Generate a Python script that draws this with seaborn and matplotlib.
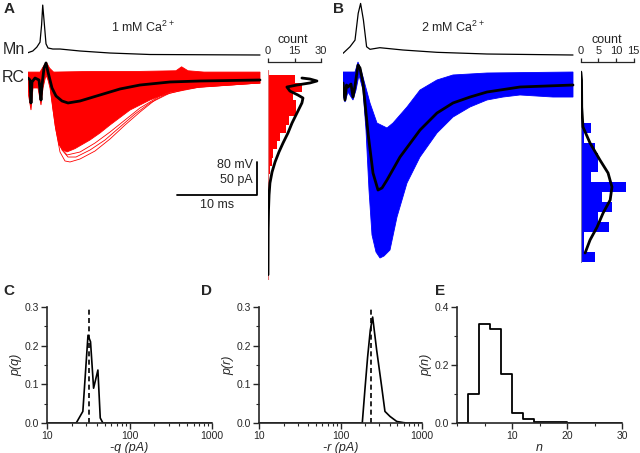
import matplotlib
matplotlib.use("Agg")
import matplotlib.pyplot as plt
import matplotlib.ticker as mticker
import numpy as np
import seaborn as sns

# ---------------- data ----------------
# time in ms, currents in pA, voltages in mV

# A: 1 mM Ca2+
mn_a_t = [0, 0.6, 1.1, 1.5, 1.7, 1.84, 2.0, 2.25, 2.5, 3.1, 4.0, 6.5, 10.25, 15.25, 29.0]
mn_a_v = [5.6, 9.7, 19, 31, 73, 121, 85, 27, 17, 14.5, 14.5, 9.7, 4.8, 1.2, 0]

rc_a_t = [0, 0.25, 0.375, 0.5, 0.875, 1.375, 1.625, 1.75, 2.0, 2.25, 2.5, 3.0, 3.5,
          4.25, 5.0, 6.5, 9.0, 11.5, 14.0, 17.75, 21.5, 29.0]
rc_a_i = [3.0, 0, -34.8, -3.0, 3.0, 0, -30.3, -7.6, 18.2, 25.8, 12.1, -12.1, -24.2,
          -31.8, -34.8, -31.8, -22.7, -13.6, -7.6, -3.0, -1.5, 0]

fan_a_top_t = [0, 1.5, 2.0, 2.3, 2.7, 3.2, 8, 14, 18.5, 19.2, 20, 22, 29]
fan_a_top_i = [12, 12, 22, 27, 18, 12, 13, 13, 14, 20, 14, 12, 12]
fan_a_low_t = [0, 0.375, 0.625, 1.25, 1.625, 1.875, 2.25, 2.5, 2.75, 3.125, 3.5, 3.875,
               4.375, 4.875, 5.875, 7.75, 9.0, 10.25, 12.75, 15.25, 17.75, 21.5, 25.25, 29.0]
fan_a_low_i = [-18.2, -45.5, -12.1, -12.1, -37.9, -12.1, 7.6, 0, -12.1, -45.5, -75.8, -98.5,
               -106, -109, -104, -90.9, -80.3, -68.2, -45.5, -30.3, -18.2, -10.6, -7.6, -4.5]

# largest single sweeps in A
big_a1_t = [2.75, 3.375, 4.0, 4.625, 5.25, 6.5, 8.375, 10.25, 12.125, 14.0, 15.875, 17.75, 20.25, 24.0, 29.0]
big_a1_i = [-7.6, -68.2, -109.1, -122.7, -124.2, -119.7, -107.6, -89.4, -68.2, -48.5, -30.3, -18.2, -10.6, -6.1, -4.5]
big_a2_t = [3.0, 3.625, 4.25, 5.0, 6.0, 7.75, 9.625, 11.5, 13.375, 15.25, 17.75, 21.5, 29.0]
big_a2_i = [-12.1, -75.8, -106.1, -116.7, -116.7, -106.1, -90.9, -71.2, -51.5, -34.8, -19.7, -10.6, -4.5]
big_a3_t = [2.875, 3.5, 4.125, 4.875, 6.5, 8.375, 10.25, 12.125, 14.0, 16.5, 20.25, 29.0]
big_a3_i = [-9.1, -72.7, -103.0, -113.6, -109.1, -95.5, -78.8, -60.6, -42.4, -24.2, -12.1, -4.5]

hist_a_amp = [1.25, -11.25, -23.75, -36.25, -48.75, -61.25, -73.75, -86.25, -98.75, -111.25, -123.75, -136.25]
hist_a_count = [15, 19, 14, 16, 16, 12, 10, 7, 5, 3, 2, 1]
fit_a_count = [19.2, 23.7, 27.7, 23.7, 16.4, 10.7, 12.4, 16.9, 19.8, 19.2, 16.4, 13.6, 11.3,
               8.5, 6.2, 4.0, 2.3, 1.1, 0.6, 0.3, 0.1, 0]
fit_a_amp = [3.0, 1.5, -1.5, -4.5, -7.6, -10.6, -16.7, -22.7, -27.3, -34.8, -50, -65.2, -80.3,
             -95.5, -109.1, -124.2, -139.4, -156.1, -174.2, -197, -227, -295]

# B: 2 mM Ca2+
mn_b_t = [0, 0.875, 1.5, 1.9, 2.2, 2.55, 2.95, 3.375, 4.6, 7.5, 11.75, 18, 28.75]
mn_b_v = [4, 20, 36, 101, 125, 85, 20, 13.8, 17.7, 12.1, 6.5, 2.4, 0]

rc_b_t = [0, 0.25, 0.44, 0.625, 1.0, 1.25, 1.5, 1.875, 2.125, 2.5, 3.125, 3.75, 4.375,
          4.875, 5.5, 7.125, 9.625, 11.75, 13.75, 15.875, 18.0, 22.125, 28.75]
rc_b_i = [-4.5, -30.3, -7.6, -10.6, -6.1, -25.8, -9.1, 22.7, 18.2, -4.5, -80.3, -140.9, -166.7,
          -163.6, -151.5, -116.7, -75.8, -50, -34.8, -25.8, -18.2, -10.6, -7.6]

fan_b_top_t = [0, 1.5, 1.875, 2.25, 2.5, 3.375, 4.25, 5.5, 6.25, 8.0, 9.625, 11.75, 13.75, 18.0, 28.75]
fan_b_top_i = [12.1, 12.1, 27.3, 15.2, 4.5, -34.8, -65.2, -72.7, -65.2, -40.9, -15.2, 0, 7.6, 10.6, 12.1]
fan_b_low_t = [0, 0.25, 0.625, 1.25, 1.625, 2.0, 2.5, 2.875, 3.25, 3.625, 4.125, 4.625, 5.125,
               5.875, 6.75, 8.0, 9.625, 11.75, 13.75, 15.875, 18.0, 20.0, 22.125, 26.25, 28.75]
fan_b_low_i = [-22.7, -33.3, -18.2, -30.3, -15.2, 7.6, -15.2, -75.8, -166.7, -234.8, -260.6, -269.7,
               -266.7, -257.6, -207.6, -156.1, -116.7, -80.3, -56.1, -40.9, -30.3, -25.8, -22.7, -25.8, -25.8]

hist_b_amp = [-72.5, -87.5, -102.5, -117.5, -132.5, -147.5, -162.5, -177.5, -192.5, -207.5,
              -222.5, -237.5, -252.5, -267.5]
hist_b_count = [3, 1, 4, 5, 5, 3, 13, 6, 9, 5, 8, 1, 1, 4]
fit_b_count = [0.1, 0.3, 0.35, 0.7, 2.7, 5.5, 7.8, 8.9, 8.4, 6.4, 4.7, 2.7, 1.3]
fit_b_amp = [12.1, 0, -40.9, -71.2, -95.5, -121.2, -140.9, -162.1, -181.8, -201.5, -222.7, -242.4, -262.1]

# C, D, E: distributions
q_pa = [10, 22.6, 27.2, 31.4, 33.7, 36.7, 41.4, 44.2, 47.6, 1000]
p_q = [0, 0, 0.03, 0.227, 0.21, 0.09, 0.137, 0.013, 0, 0]
q_mean = 32.2

r_pa = [10, 185, 200, 215, 232, 248, 278, 320, 351, 405, 490, 590, 650, 1000]
p_r = [0, 0, 0.09, 0.17, 0.24, 0.274, 0.188, 0.094, 0.03, 0.017, 0.004, 0.001, 0, 0]
r_mean = 238

n_edges = [0, 2, 4, 6, 8, 10, 12, 14, 16, 18, 20, 22, 24, 26, 28, 30]
p_n = [0, 0.10, 0.34, 0.325, 0.17, 0.035, 0.015, 0.005, 0.003, 0.002, 0.001, 0.001, 0, 0, 0, 0]

RED = "#ff0000"
BLUE = "#0000ff"

# ---------------- layout helpers (pixel placement) ----------------
W, H = 640, 453
sns.set_style("ticks")
plt.rcParams['font.family'] = ['Liberation Sans', 'DejaVu Sans']
plt.rcParams['mathtext.default'] = 'regular'

fig = plt.figure(figsize=(W / 100, H / 100), dpi=100)


def px_axes(left, top, right, bottom):
    return fig.add_axes([left / W, 1 - bottom / H, (right - left) / W, (bottom - top) / H])


def ftext(x, y, s, **kw):
    kw.setdefault("ha", "center")
    kw.setdefault("va", "center")
    fig.text(x / W, 1 - y / H, s, **kw)


# vertical scale: 50 pA == 80 mV == 33 px, baseline at 80 px from top
PX_PER_PA = 0.66
I_TOP = 80 / PX_PER_PA
I_BOT = (80 - 280) / PX_PER_PA
MN_BASE = (80 - 55) / PX_PER_PA
MV_TO_PA = 50 / 80


def trace_panel(left, mn_t, mn_v, top_t, top_i, low_t, low_i, mean_t, mean_i, colour, extra=()):
    ax = px_axes(left, 0, left + 234, 280)
    ax.set_xlim(0, 234 / 8)
    ax.set_ylim(I_BOT, I_TOP)
    ax.axis("off")
    ax.plot(mn_t, [MN_BASE + v * MV_TO_PA for v in mn_v], color="black", lw=0.9)
    ax.fill(np.concatenate([top_t, low_t[::-1]]), np.concatenate([top_i, low_i[::-1]]),
            color=colour, lw=0.6, ec=colour)
    for tt, ii in extra:
        ax.plot(tt, ii, color=colour, lw=0.6)
    sns.lineplot(x=mean_t, y=mean_i, ax=ax, color="black", lw=2.0, estimator=None)
    return ax


def hist_panel(left, counts_max, ticks, amp, counts, bin_h, fit_c, fit_i, colour, line_col, line_top, line_bot):
    ax = px_axes(left, 62, left + 53, 280)
    ax.set_xlim(0, counts_max)
    ax.set_ylim(I_BOT, (80 - 62) / PX_PER_PA)
    ax.barh(amp, counts, height=bin_h, color=colour, lw=0)
    ax.plot([0, 0], [line_top, line_bot], color=line_col, lw=0.8)
    sns.lineplot(x=fit_c, y=fit_i, ax=ax, color="black", lw=2.0, sort=False, estimator=None)
    for s in ["left", "right", "bottom"]:
        ax.spines[s].set_visible(False)
    ax.spines["top"].set_linewidth(0.9)
    ax.xaxis.tick_top()
    ax.set_xticks(ticks)
    ax.set_yticks([])
    ax.tick_params(axis="x", direction="out", length=3, width=0.9, pad=1, labelsize=8)
    ax.set_xlabel("")
    ax.set_ylabel("")
    return ax


axA = trace_panel(28, mn_a_t, mn_a_v, fan_a_top_t, fan_a_top_i, fan_a_low_t, fan_a_low_i,
                  rc_a_t, rc_a_i, RED,
                  extra=[(big_a1_t, big_a1_i), (big_a2_t, big_a2_i), (big_a3_t, big_a3_i)])
# scale bars: 10 ms, 50 pA / 80 mV
bar_t0 = (177 - 28) / 8
bar_y = (80 - 195) / PX_PER_PA
axA.plot([bar_t0, bar_t0 + 10, bar_t0 + 10], [bar_y, bar_y, bar_y + 50], color="black", lw=1.3)

trace_panel(343, mn_b_t, mn_b_v, fan_b_top_t, fan_b_top_i, fan_b_low_t, fan_b_low_i,
            rc_b_t, rc_b_i, BLUE)

hist_panel(268, 30, [0, 15, 30], hist_a_amp, hist_a_count, 12.5, fit_a_count, fit_a_amp,
           RED, "#e07070", 15, -303)
hist_panel(580.5, 15, [0, 5, 10, 15], hist_b_amp, hist_b_count, 15, fit_b_count, fit_b_amp,
           BLUE, "#7a7aa8", 12, -276)

# ---------------- bottom row ----------------
def dist_axes(left, right):
    ax = px_axes(left, 307, right, 423)
    for s in ["top", "right"]:
        ax.spines[s].set_visible(False)
    for s in ["left", "bottom"]:
        ax.spines[s].set_linewidth(1.2)
    ax.tick_params(which="major", direction="out", length=4, width=1.0, labelsize=7.5, pad=1.5)
    ax.tick_params(which="minor", direction="out", length=2, width=0.8)
    return ax


def log_setup(ax, xlabel, ylabel):
    ax.set_xscale("log")
    ax.set_xlim(10, 1000)
    ax.set_ylim(0, 0.3)
    ax.xaxis.set_major_locator(mticker.LogLocator(base=10))
    ax.xaxis.set_minor_locator(mticker.LogLocator(base=10, subs=np.arange(2, 10)))
    ax.xaxis.set_major_formatter(mticker.FuncFormatter(lambda v, p: f"{v:g}"))
    ax.xaxis.set_minor_formatter(mticker.NullFormatter())
    ax.set_yticks([0, 0.1, 0.2, 0.3])
    ax.yaxis.set_minor_locator(mticker.MultipleLocator(0.05))
    ax.yaxis.set_major_formatter(mticker.FormatStrFormatter("%.1f"))
    ax.set_xlabel(xlabel, style="italic", fontsize=9, labelpad=1)
    ax.set_ylabel(ylabel, style="italic", fontsize=9, labelpad=2)


axC = dist_axes(47, 212)
sns.lineplot(x=q_pa, y=p_q, ax=axC, color="black", lw=1.2, estimator=None)
axC.plot([q_mean, q_mean], [0, 0.3], color="black", lw=1.2, ls=(0, (3, 2)))
log_setup(axC, "-q (pA)", "p(q)")

axD = dist_axes(259, 422)
sns.lineplot(x=r_pa, y=p_r, ax=axD, color="black", lw=1.2, estimator=None)
axD.plot([r_mean, r_mean], [0, 0.3], color="black", lw=1.2, ls=(0, (3, 2)))
log_setup(axD, "-r (pA)", "p(r)")

axE = dist_axes(457, 622)
sns.lineplot(x=n_edges, y=p_n, ax=axE, color="black", lw=1.3, drawstyle="steps-post", estimator=None)
axE.set_xlim(0, 30)
axE.set_ylim(0, 0.4)
axE.set_xticks([10, 20, 30])
axE.xaxis.set_minor_locator(mticker.MultipleLocator(5))
axE.set_yticks([0, 0.2, 0.4])
axE.yaxis.set_minor_locator(mticker.MultipleLocator(0.1))
axE.yaxis.set_major_formatter(mticker.FormatStrFormatter("%.1f"))
axE.set_xlabel("n", style="italic", fontsize=9, labelpad=1)
axE.set_ylabel("p(n)", style="italic", fontsize=9, labelpad=2)

# ---------------- text ----------------
for x, y, s in [(9, 9, "A"), (339, 9, "B"), (9, 291, "C"), (207, 291, "D"), (440, 291, "E")]:
    ftext(x, y, s, fontsize=11, fontweight="bold")
ftext(143, 27, "1 mM Ca$^{2+}$", fontsize=9)
ftext(453, 27, "2 mM Ca$^{2+}$", fontsize=9)
ftext(14, 49, "Mn", fontsize=11.5)
ftext(13, 78, "RC", fontsize=11.5)
ftext(293, 40, "count", fontsize=9)
ftext(607, 40, "count", fontsize=9)
ftext(253, 165, "80 mV", fontsize=9, ha="right")
ftext(253, 180, "50 pA", fontsize=9, ha="right")
ftext(217, 205, "10 ms", fontsize=9)

fig.savefig("out.png", dpi=100)
